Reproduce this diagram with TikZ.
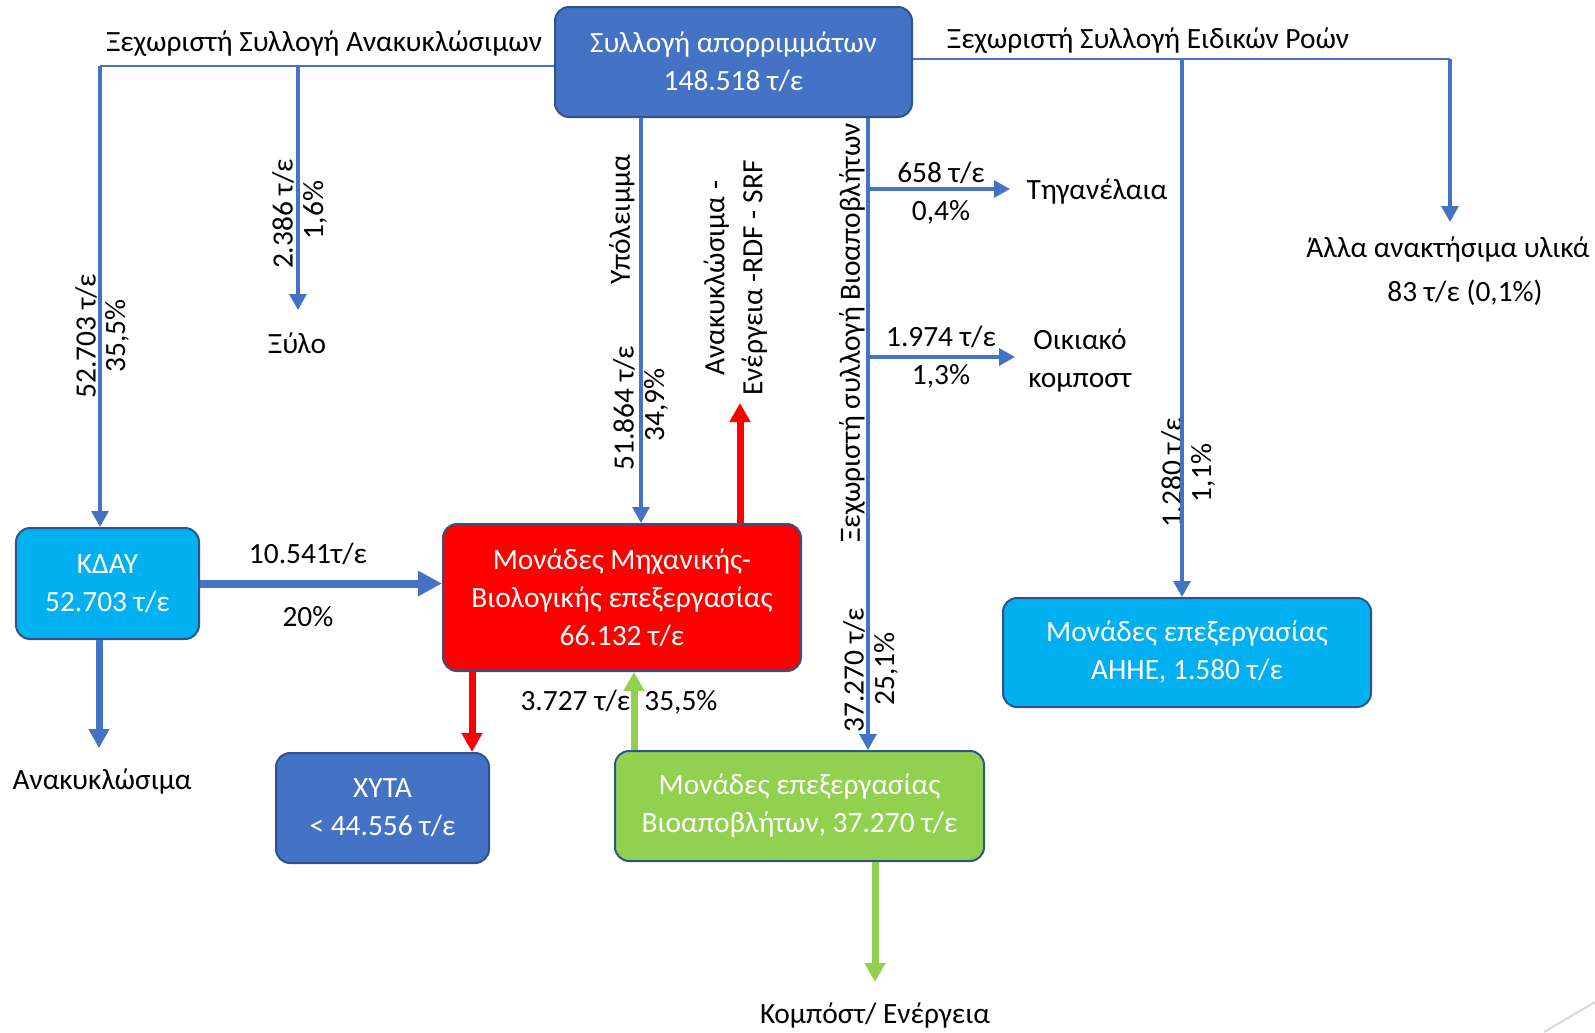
\documentclass[tikz,border=0pt]{standalone}
\usepackage{fontspec}
\setmainfont{Carlito}
\usetikzlibrary{arrows.meta}

\definecolor{offblue}{HTML}{4472C4}
\definecolor{edgeblue}{HTML}{2F528F}
\definecolor{skyblue}{HTML}{00B0F0}
\definecolor{leafgreen}{HTML}{92D050}

\begin{document}
\begin{tikzpicture}[x=0.5bp, y=-0.5bp,
    font=\fontsize{14.7bp}{19bp}\selectfont,
    box/.style={draw=edgeblue, line width=1bp, rounded corners=7bp, text=white, align=center, inner sep=0pt},
    lbl/.style={inner sep=0pt, align=center},
    vlbl/.style={inner sep=0pt, rotate=90},
    feed/.style={draw=offblue, line width=1bp},
    flow/.style={draw=offblue, line width=1.6bp, -{Triangle[length=8bp, width=8.5bp]}},
    fat/.style={draw=#1, line width=3.5bp, -{Triangle[length=9.5bp, width=10bp]}}]
        \useasboundingbox (0,0) rectangle (1595,1032);

        \node[box, fill=offblue, minimum width=178.5bp, minimum height=55bp] (waste) at (733.5,62) {Συλλογή απορριμμάτων\\148.518 τ/ε};
        \node[box, fill=skyblue, minimum width=91.5bp, minimum height=55.5bp] (kday) at (107.5,583.5) {ΚΔΑΥ\\52.703 τ/ε};
        \node[box, fill=red, minimum width=179bp, minimum height=73.5bp] (mbt) at (622,597.5) {Μονάδες Μηχανικής-\\Βιολογικής επεξεργασίας\\66.132 τ/ε};
        \node[box, fill=offblue, minimum width=106.5bp, minimum height=55bp] (xyta) at (382.5,808) {ΧΥΤΑ\\< 44.556 τ/ε};
        \node[box, fill=leafgreen, minimum width=184.5bp, minimum height=55bp] (bio) at (799.5,806) {Μονάδες επεξεργασίας\\Βιοαποβλήτων, 37.270 τ/ε};
        \node[box, fill=skyblue, minimum width=184bp, minimum height=54.5bp] (ahhe) at (1187,652.5) {Μονάδες επεξεργασίας\\ΑΗΗΕ, 1.580 τ/ε};

        \coordinate (lsplit) at (100,66);
        \coordinate (wood) at (298,66);
        \coordinate (woodend) at (298,310);
        \coordinate (rsplit) at (1450,59);
        \coordinate (otherend) at (1450,222);
        \coordinate (weee) at (1182,59);
        \coordinate (resx) at (641,0);
        \coordinate (rdfend) at (740,403);
        \coordinate (biox) at (868,0);
        \coordinate (fryin) at (1010,189);
        \coordinate (homein) at (1015,357);
        \coordinate (dumpx) at (472,0);
        \coordinate (backx) at (634,0);
        \coordinate (compend) at (875,982);
        \coordinate (recend) at (99,748);

        \node[lbl] (leftfeed) at (324,44) {Ξεχωριστή Συλλογή Ανακυκλώσιμων};
        \node[lbl] (rightfeed) at (1148,41) {Ξεχωριστή Συλλογή Ειδικών Ροών};
        \node[vlbl] at (86,336) {52.703 τ/ε};
        \node[vlbl] at (117,336) {35,5\%};
        \node[vlbl] at (283,214) {2.386 τ/ε};
        \node[vlbl] at (315,210) {1,6\%};
        \node[lbl] (xylo) at (297,343) {Ξύλο};
        \node[vlbl] at (622,220) {Υπόλειμμα};
        \node[vlbl] at (624,408) {51.864 τ/ε};
        \node[vlbl] at (656,405) {34,9\%};
        \node[vlbl, align=center] (rdf) at (735.5,278) {Ανακυκλώσιμα -\\Ενέργεια -RDF - SRF};
        \node[vlbl] at (852,333) {Ξεχωριστή συλλογή Βιοαποβλήτων};
        \node[lbl] at (941,173) {658 τ/ε};
        \node[lbl] at (941,212) {0,4\%};
        \node[lbl] (fry) at (1097,192) {Τηγανέλαια};
        \node[lbl] at (941,337) {1.974 τ/ε};
        \node[lbl] at (941,376) {1,3\%};
        \node[lbl] (home) at (1080,361) {Οικιακό\\κομποστ};
        \node[vlbl] at (854,670) {37.270 τ/ε};
        \node[vlbl] at (886,669) {25,1\%};
        \node[lbl] (other) at (1448,250) {Άλλα ανακτήσιμα υλικά};
        \node[lbl] at (1465,293) {83 τ/ε (0,1\%)};
        \node[vlbl] at (1172,473) {1.280 τ/ε};
        \node[vlbl] at (1203,473) {1,1\%};
        \node[lbl] at (308,554) {10.541τ/ε};
        \node[lbl] at (308,617) {20\%};
        \node[lbl] at (619,702) {3.727 τ/ε, 35,5\%};
        \node[lbl] (recycl) at (102,782) {Ανακυκλώσιμα};
        \node[lbl] (compost) at (875,1015) {Κομπόστ/ Ενέργεια};

        \draw[feed] (waste.west |- lsplit) -- (lsplit);
        \draw[flow] (lsplit) -- (lsplit |- kday.north);
        \draw[flow] (wood) -- (woodend);
        \draw[feed] (waste.east |- rsplit) -- (rsplit);
        \draw[flow] (rsplit) -- (otherend);
        \draw[flow] (weee) -- (weee |- ahhe.north);
        \draw[flow] (waste.south -| resx) -- (mbt.north -| resx);
        \draw[flow] (waste.south -| biox) -- (bio.north -| biox);
        \draw[flow] (biox |- fryin) -- (fryin);
        \draw[flow] (biox |- homein) -- (homein);
        \draw[fat=red] (mbt.north -| rdfend) -- (rdfend);
        \draw[draw=offblue, line width=4bp, -{Triangle[length=12bp, width=12bp]}] (kday.east) -- (kday.east -| mbt.west);
        \draw[fat=offblue] (kday.south -| recend) -- (recend);
        \draw[fat=red] (mbt.south -| dumpx) -- (xyta.north -| dumpx);
        \draw[fat=leafgreen] (bio.north -| backx) -- (mbt.south -| backx);
        \draw[fat=leafgreen] (bio.south -| compend) -- (compend);

        \draw[gray!30, line width=1bp] (1544,1032) -- (1595,1002);
    \end{tikzpicture}
\end{document}
